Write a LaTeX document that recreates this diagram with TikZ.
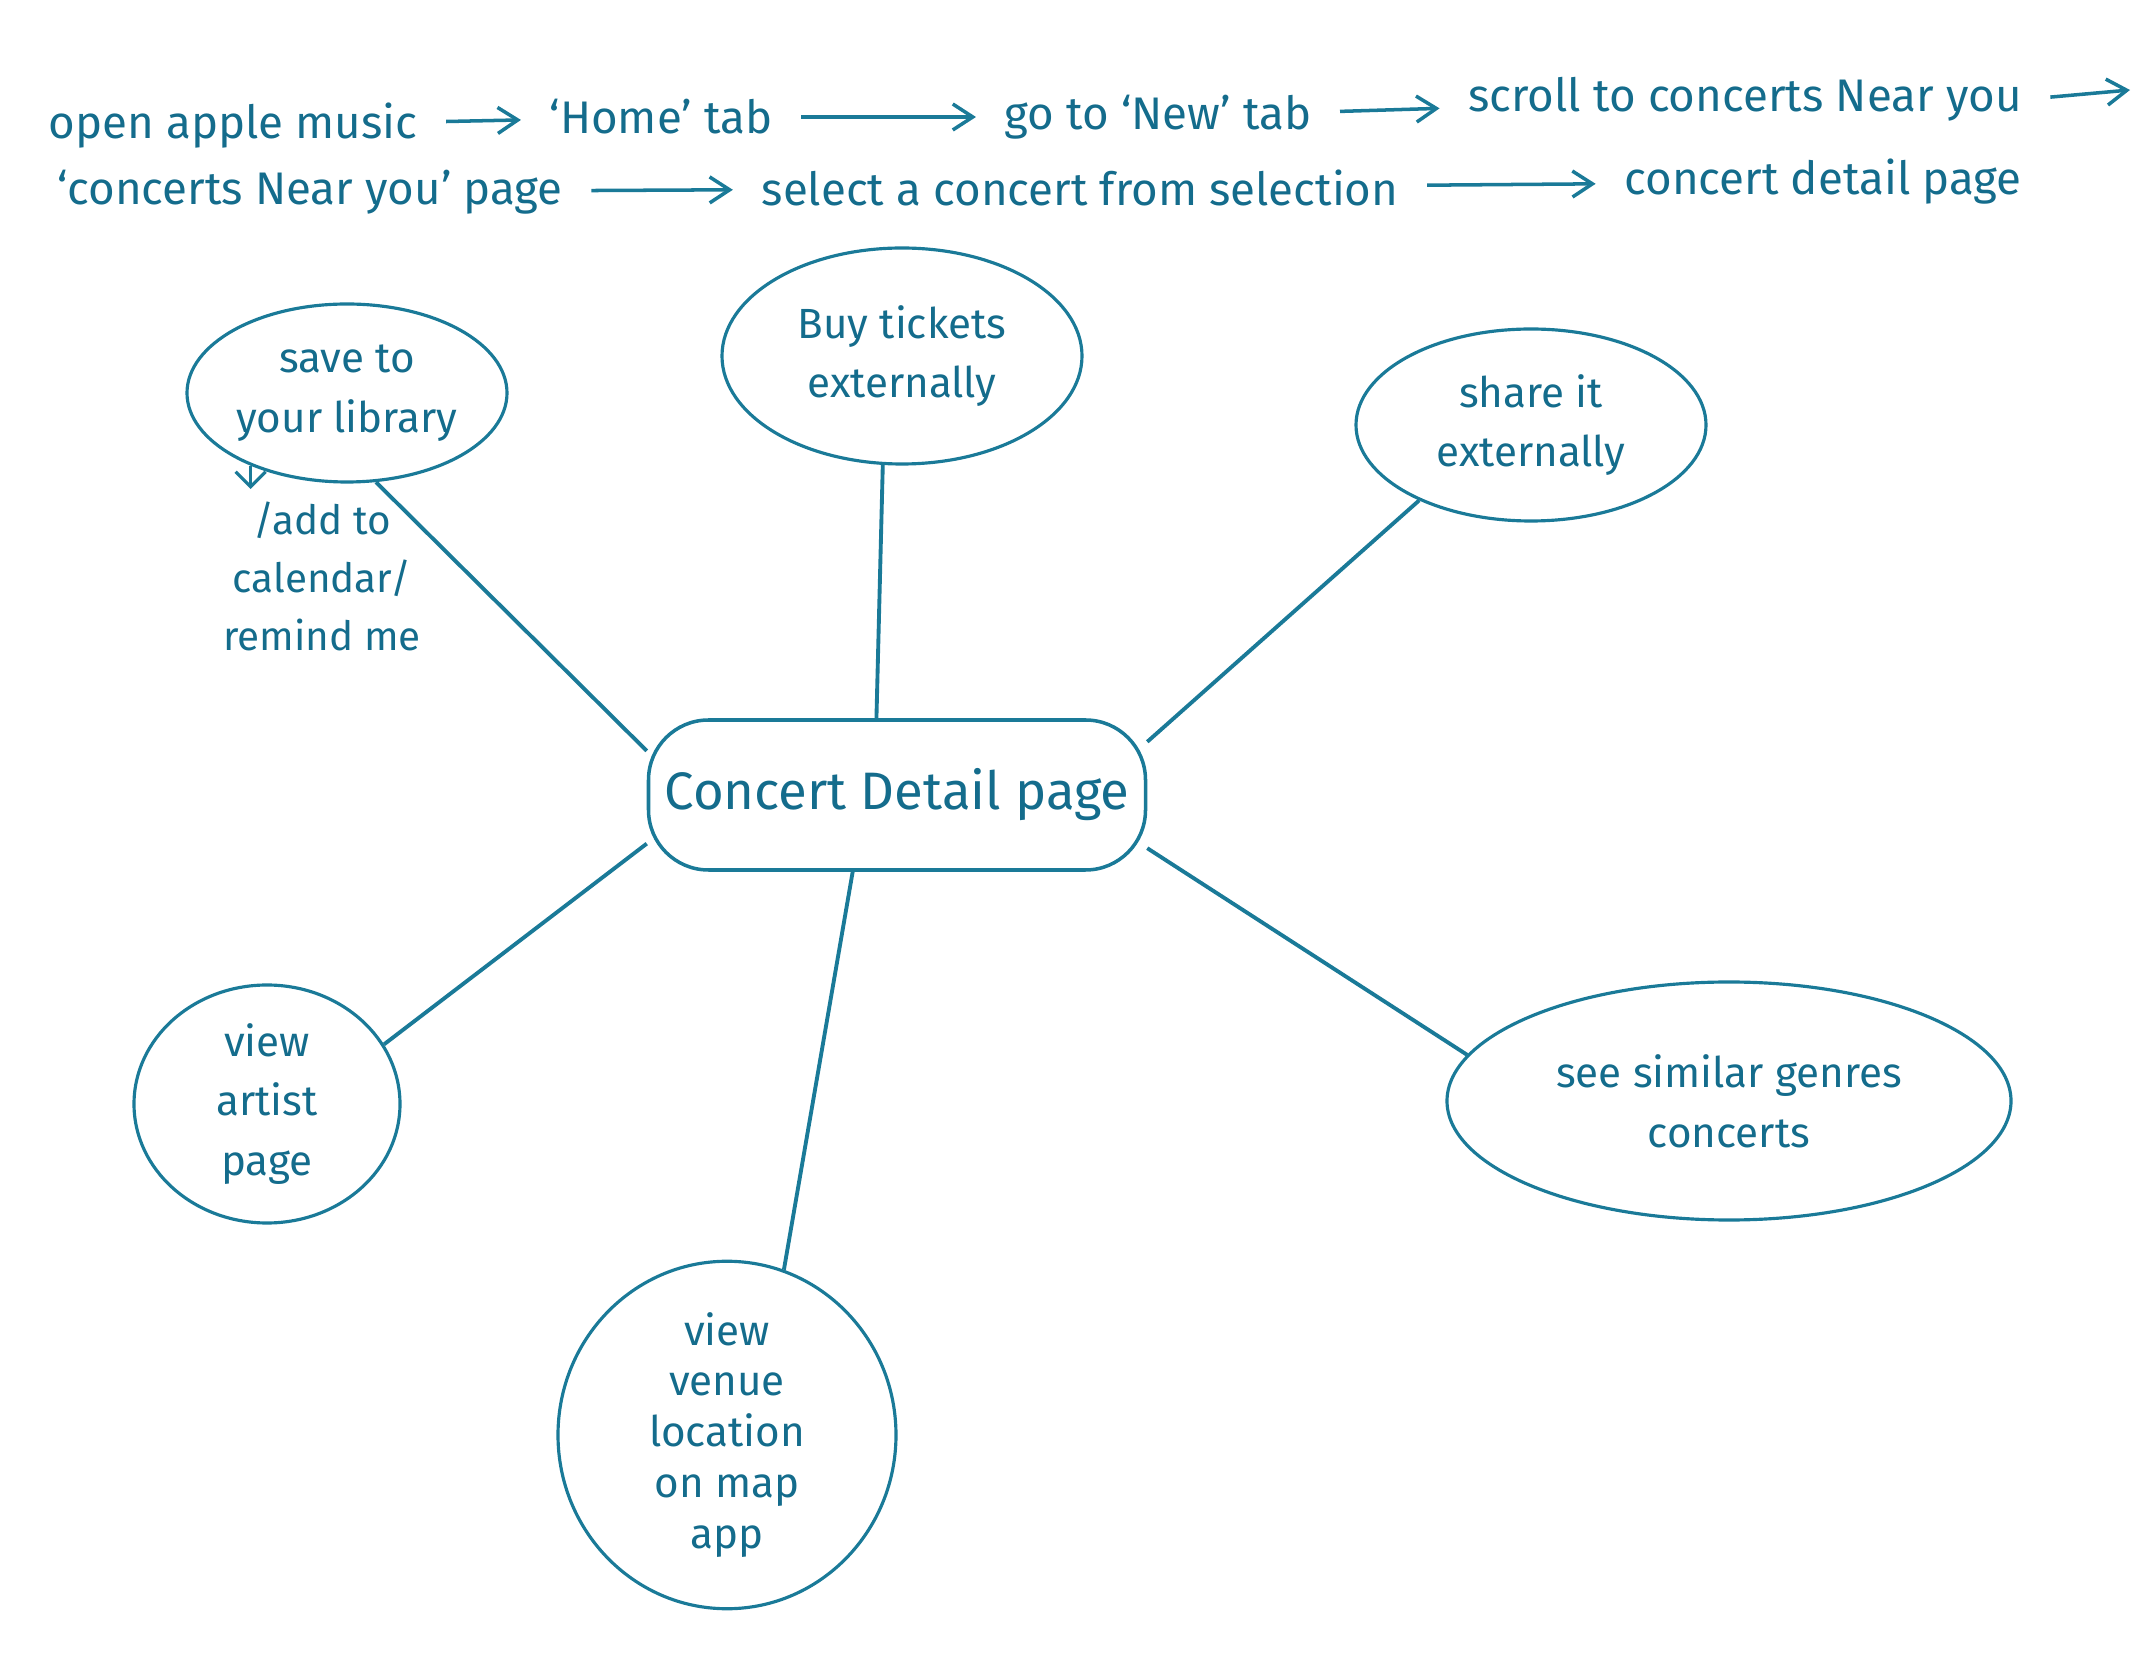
\documentclass[tikz,border=0pt]{standalone}
\usepackage{fontspec}
\setmainfont{Fira Sans}
\usetikzlibrary{arrows.meta,positioning,shapes.geometric}
\definecolor{inkBlue}{RGB}{26,122,152}
\definecolor{inkText}{RGB}{20,108,140}
\tikzset{
  flowstep/.style={text=inkText, inner sep=2pt, font=\fontsize{13}{15}\selectfont},
  flowarrow/.style={inkBlue, line width=1pt, -{Straight Barb[length=2mm,width=2.6mm]}, shorten <=6pt, shorten >=6pt},
  bubble/.style={ellipse, draw=inkBlue, line width=0.9pt, text=inkText, align=center, inner sep=0pt, font=\fontsize{12}{17}\selectfont},
  link/.style={inkBlue, line width=1.1pt}
}
\begin{document}
\begin{tikzpicture}[x=1cm,y=1cm]
    \useasboundingbox (0,0) rectangle (21.5,16.59);
    % top flow
    \node[flowstep] (s1) at (2.33,15.33) {open apple music};
    \node[flowstep] (s2) at (6.61,15.42) {`Home' tab};
    \node[flowstep] (s3) at (11.58,15.42) {go to `New' tab};
    \node[flowstep] (s4) at (17.45,15.60) {scroll to concerts Near you};
    \coordinate (wrap) at (21.30,15.69);
    \node[flowstep] (s5) at (3.10,14.67) {`concerts Near you' page};
    \node[flowstep] (s6) at (10.80,14.71) {select a concert from selection};
    \node[flowstep] (s7) at (18.23,14.77) {concert detail page};
    \draw[flowarrow] (s1) -- (s2);
    \draw[flowarrow] (s2) -- (s3);
    \draw[flowarrow] (s3) -- (s4);
    \draw[flowarrow, shorten >=0pt] (s4.east) -- (wrap);
    \draw[flowarrow] (s5) -- (s6);
    \draw[flowarrow] (s6) -- (s7);
    % mind map
    \node[draw=inkBlue, line width=1pt, rounded corners=0.6cm, minimum width=4.97cm, minimum height=1.5cm,
          text=inkText, font=\fontsize{15}{18}\selectfont] (detail) at (8.97,8.64) {Concert Detail page};
    \node[bubble, minimum width=3.60cm, minimum height=2.16cm] (buy) at (9.02,13.03) {Buy tickets\\externally};
    \node[bubble, minimum width=3.20cm, minimum height=1.78cm] (save) at (3.47,12.66) {save to\\your library};
    \node[bubble, minimum width=3.50cm, minimum height=1.92cm] (share) at (15.31,12.34) {share it\\externally};
    \node[bubble, minimum width=2.66cm, minimum height=2.38cm] (artist) at (2.67,5.55) {view\\artist\\page};
    \node[bubble, minimum width=5.64cm, minimum height=2.38cm] (similar) at (17.29,5.58) {see similar genres\\concerts};
    \node[bubble, minimum width=3.38cm, minimum height=2.86cm, font=\fontsize{12}{14.5}\selectfont] (venue) at (7.27,2.24) {view\\venue\\location\\on map\\app};
    \node[text=inkText, align=center, font=\fontsize{11.5}{16.5}\selectfont] (note) at (3.22,10.83) {/add to\\calendar/\\remind me};
    \draw[inkBlue, line width=0.9pt, -{Straight Barb[length=1.5mm]}] (save.217) -- (save.217 |- note.north);
    % links
    \draw[link] (save.288) -- (detail.170);
    \draw[link] (buy.260) -- (detail.105);
    \draw[link] (share.214) -- (detail.12);
    \draw[link] (artist.27) -- (detail.191);
    \draw[link] (similar.170) -- (detail.348);
    \draw[link] (venue.71) -- (detail.240);
\end{tikzpicture}
\end{document}
